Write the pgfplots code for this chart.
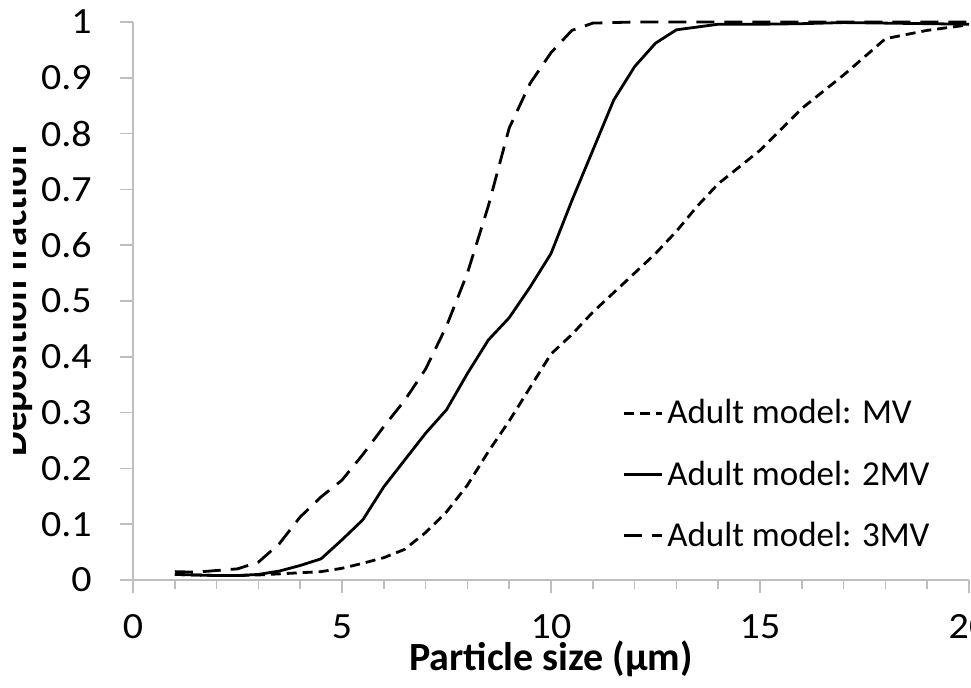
\documentclass[border=0pt]{standalone}
\usepackage{fontspec}
\setmainfont{Carlito}
\newfontfamily\tickfont[FakeStretch=1.08]{Carlito}
\usepackage{pgfplots}
\pgfplotsset{compat=1.18}
\definecolor{axgray}{RGB}{190,190,190}
\begin{document}
\begin{tikzpicture}
\begin{axis}[
 scale only axis, width=418pt, height=279pt,
 xmin=0, xmax=20, ymin=0, ymax=1,
 axis x line=bottom, axis y line=left,
 axis line style={axgray, line width=0.8pt, -},
 xtick={0,5,10,15,20}, minor xtick={1,2,3,4,6,7,8,9,11,12,13,14,16,17,18,19},
 ytick={0,0.1,0.2,0.3,0.4,0.5,0.6,0.7,0.8,0.9,1},
 tick align=outside,
 major tick length=6.5pt, minor tick length=4.5pt,
 every tick/.style={axgray, line width=0.8pt},
 ticklabel style={font=\tickfont\fontsize{18.5pt}{22pt}\selectfont, inner sep=0pt},
 /pgf/number format/assume math mode=true,
 yticklabel style={/pgf/number format/fixed, /pgf/number format/precision=1, xshift=-14pt},
 xticklabel style={yshift=-10.5pt},
 xlabel={Particle size (µm)},
 ylabel={Deposition fraction},
 xlabel style={at={(axis description cs:0.5,-0.1613)}, anchor=base, font=\fontsize{20pt}{23pt}\selectfont\bfseries, inner sep=0pt},
 ylabel style={at={(axis description cs:-0.1268,0.5)}, anchor=base, rotate=0, font=\fontsize{19.5pt}{23pt}\selectfont\bfseries, inner sep=0pt},
 legend style={at={(axis cs:11.7,0.189)}, anchor=west, draw=none, fill=none, font=\fontsize{17.5pt}{21pt}\selectfont, row sep=13pt, inner sep=0pt},
 legend cell align=left,
 legend image code/.code={\draw[#1] (0pt,0pt) -- (19pt,0pt);},
 clip=false,
]
\addplot[black, line width=1.4pt, dash pattern=on 5pt off 3pt] coordinates {
(1,0.010)(1.5,0.009)(2,0.008)(2.5,0.008)(3,0.009)(3.5,0.011)(4,0.013)(4.5,0.015)(5,0.021)(5.5,0.030)(6,0.040)(6.5,0.055)(7,0.085)(7.5,0.122)(8,0.170)(8.5,0.230)(9,0.285)(9.5,0.345)(10,0.405)(10.5,0.440)(11,0.480)(11.5,0.515)(12,0.550)(12.5,0.585)(13,0.625)(13.5,0.670)(14,0.710)(15,0.770)(16,0.845)(17,0.905)(18,0.970)(19,0.985)(20,0.995)};
\addlegendentry{Adult model: MV}
\addplot[black, line width=1.4pt] coordinates {
(1,0.010)(1.5,0.009)(2,0.008)(2.5,0.008)(3,0.010)(3.5,0.016)(4,0.026)(4.5,0.038)(5,0.072)(5.5,0.108)(6,0.167)(6.5,0.215)(7,0.263)(7.5,0.305)(8,0.370)(8.5,0.430)(9,0.470)(9.5,0.525)(10,0.585)(10.5,0.680)(11,0.770)(11.5,0.860)(12,0.920)(12.5,0.962)(13,0.986)(14,0.996)(15,0.996)(16,0.997)(17,0.999)(18,0.998)(19,0.997)(20,0.996)};
\addlegendentry{Adult model: 2MV}
\addplot[black, line width=1.4pt, dash pattern=on 9pt off 5pt] coordinates {
(1,0.015)(1.5,0.014)(2,0.017)(2.5,0.020)(3,0.032)(3.5,0.065)(4,0.113)(4.5,0.149)(5,0.179)(5.5,0.225)(6,0.275)(6.5,0.322)(7,0.378)(7.5,0.455)(8,0.550)(8.5,0.670)(9,0.810)(9.5,0.890)(10,0.945)(10.5,0.985)(11,0.998)(12,1.0)(13,1.0)(14,1.0)(15,1.0)(16,1.0)(17,1.0)(18,1.0)(19,1.0)(20,1.0)};
\addlegendentry{Adult model: 3MV}
\end{axis}
\pgfresetboundingbox
\path[use as bounding box] (-66.5pt,-53.5pt) rectangle (419pt,290pt);
\fill[white] (-67pt,-54pt) rectangle (-60pt,291pt);
\end{tikzpicture}
\end{document}
